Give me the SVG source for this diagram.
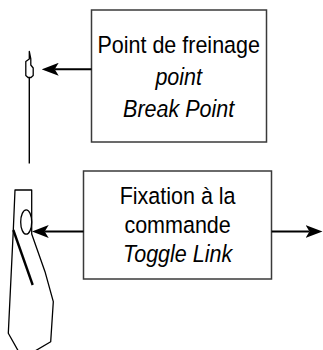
<svg xmlns="http://www.w3.org/2000/svg" width="323" height="350" viewBox="0 0 323 350">
  <style>
    .box { fill: #ffffff; stroke: #3a3a3a; stroke-width: 1.5; }
    .lbl { font-family: "Liberation Sans", Arial, sans-serif; font-size: 23.5px; fill: #000000; text-anchor: middle; }
    .it { font-style: italic; }
    .wire { stroke: #000000; stroke-width: 2; fill: none; }
    .part { stroke: #000000; stroke-width: 1.3; fill: #ffffff; stroke-linejoin: round; }
  </style>
  <defs>
    <marker id="ah" viewBox="0 0 17 13" refX="4" refY="6.5" markerWidth="17" markerHeight="13" markerUnits="userSpaceOnUse" orient="auto">
      <path d="M0 0 L17 6.5 L0 13 L4 6.5 Z" fill="#000000"/>
    </marker>
  </defs>

  <!-- break point cable with its small clip -->
  <g id="cable">
    <line x1="29.3" y1="77" x2="29.3" y2="163.5" stroke="#000" stroke-width="1.4"/>
    <path class="part" d="M29.3 51.5 V59 L25.8 61.5 V75.5 L28 77.5 H31 L33.2 75.5 V68 L30.8 65 V59 Z"/>
  </g>

  <!-- toggle lever -->
  <g id="lever">
    <path class="part" d="M15 190 H31.7 V234 L45 271.7 L53.3 301.7 L50.7 341.7 L35 351 H18.3 L8.3 333.3 L13.3 230 Z"/>
    <ellipse class="part" cx="26.2" cy="222" rx="5.5" ry="12.2"/>
    <line x1="13.3" y1="230" x2="32.7" y2="285" stroke="#000" stroke-width="2.4"/>
  </g>

  <!-- labels are set slightly condensed: x values are in the scaled space -->
  <g id="node-breakpoint">
    <rect class="box" x="91.5" y="10" width="175" height="132"/>
    <g transform="scale(0.915 1)">
      <text class="lbl" x="195.3" y="53.5">Point de freinage</text>
      <text class="lbl it" x="195.3" y="85.5">point</text>
      <text class="lbl it" x="195.3" y="117.5">Break Point</text>
    </g>
  </g>

  <g id="node-togglelink">
    <rect class="box" x="83.5" y="171" width="188" height="108"/>
    <g transform="scale(0.915 1)">
      <text class="lbl" x="194.1" y="204.5">Fixation à la</text>
      <text class="lbl" x="194.1" y="233.5">commande</text>
      <text class="lbl it" x="194.1" y="262.5">Toggle Link</text>
    </g>
  </g>

  <g id="connectors">
    <line class="wire" x1="91.5" y1="69.3" x2="54.7" y2="69.3" marker-end="url(#ah)"/>
    <line class="wire" x1="83.5" y1="231.5" x2="44.7" y2="231.5" marker-end="url(#ah)"/>
    <line class="wire" x1="271.7" y1="231.5" x2="309.5" y2="231.5" marker-end="url(#ah)"/>
  </g>
</svg>
